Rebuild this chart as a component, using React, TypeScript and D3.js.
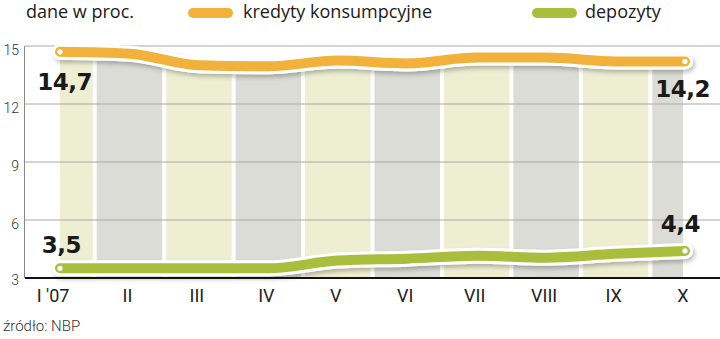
import React from "react";
import * as d3 from "d3";

const categories = ["I '07", "II", "III", "IV", "V", "VI", "VII", "VIII", "IX", "X"];
const kredyty = [14.7, 14.6, 14.0, 13.95, 14.25, 14.1, 14.4, 14.4, 14.2, 14.2];
const depozyty = [3.5, 3.5, 3.5, 3.5, 3.9, 4.0, 4.15, 4.05, 4.25, 4.4];
const yTicks = [3, 6, 9, 12, 15];
const seriesNames = ["kredyty konsumpcyjne", "depozyty"];

const W = 720;
const H = 339;
const ORANGE = "#f2b13a";
const GREEN = "#a8be3c";
const BAND_A = "#eeeed2";
const BAND_B = "#dcdcd6";

const plLocale = d3.formatLocale({ decimal: ",", thousands: " ", grouping: [3], currency: ["", ""] });
const fmt = plLocale.format(".1f");

export default function App() {
  const x = d3.scalePoint<string>().domain(categories).range([60, 685]);
  const y = d3.scaleLinear().domain([3, 15]).range([278, 46]);
  const step = x.step();

  const lineGen = d3
    .line<number>()
    .x((_, i) => x(categories[i]) as number)
    .y((d) => y(d))
    .curve(d3.curveMonotoneX);

  const areaGen = d3
    .area<number>()
    .x((_, i) => x(categories[i]) as number)
    .y0(y(3))
    .y1((d) => y(d) + 8)
    .curve(d3.curveMonotoneX);

  const x0 = x(categories[0]) as number;
  const x9 = x(categories[categories.length - 1]) as number;

  const bands = categories.map((c, i) => {
    const cx = x(c) as number;
    let l = Math.max(x0, cx - step / 2 + 2);
    let r = Math.min(x9, cx + step / 2 - 2);
    if (i === 0) l = x0 - 1;
    if (i === categories.length - 1) r = x9 - 2;
    return { l, r, fill: i % 2 === 0 ? BAND_A : BAND_B };
  });

  const series = [
    { values: kredyty, color: ORANGE },
    { values: depozyty, color: GREEN },
  ];

  const labelFont = "'DejaVu Sans', sans-serif";

  return (
    <svg width={W} height={H} style={{ position: "absolute", left: 0, top: 0, background: "#fff" }}>
      <defs>
        <clipPath id="underTop">
          <path d={areaGen(kredyty) || ""} />
        </clipPath>
        <filter id="shadow" x="-10%" y="-50%" width="120%" height="250%">
          <feDropShadow dx="2" dy="3" stdDeviation="2" floodColor="#000" floodOpacity="0.25" />
        </filter>
      </defs>

      {/* header */}
      <text x={26} y={18} fontFamily="'Open Sans', sans-serif" fontSize={18} fill="#1a1a1a">
        dane w proc.
      </text>
      <line x1={193} x2={228} y1={13} y2={13} stroke={ORANGE} strokeWidth={10} strokeLinecap="round" />
      <text x={243} y={18} fontFamily="'Open Sans', sans-serif" fontSize={18} fill="#1a1a1a">
        {seriesNames[0]}
      </text>
      <line x1={537} x2={572} y1={13} y2={13} stroke={GREEN} strokeWidth={10} strokeLinecap="round" />
      <text x={585} y={18} fontFamily="'Open Sans', sans-serif" fontSize={18} fill="#1a1a1a">
        {seriesNames[1]}
      </text>

      {/* bands */}
      <g clipPath="url(#underTop)">
        {bands.map((b, i) => (
          <rect key={i} x={b.l} y={40} width={b.r - b.l} height={y(3) - 40} fill={b.fill} />
        ))}
      </g>

      {/* grid */}
      {yTicks
        .filter((t) => t !== 3)
        .map((t) => (
          <line key={t} x1={25} x2={W} y1={y(t)} y2={y(t)} stroke="#a8a8a8" strokeWidth={1} />
        ))}
      <line x1={24.5} x2={24.5} y1={y(15)} y2={y(3)} stroke="#888" strokeWidth={1} />

      {/* y tick labels */}
      {yTicks.map((t) => (
        <text
          key={t}
          x={19}
          y={y(t) + (t === 3 ? 7 : 9)}
          textAnchor="end"
          fontFamily="Roboto, sans-serif"
          fontWeight={300}
          fontSize={14}
          fill="#333"
        >
          {t}
        </text>
      ))}

      {/* lines */}
      {series.map((s, k) => (
        <g key={k}>
          <path
            d={lineGen(s.values) || ""}
            fill="none"
            stroke="#fff"
            strokeWidth={16}
            strokeLinecap="round"
            filter="url(#shadow)"
          />
          <path d={lineGen(s.values) || ""} fill="none" stroke={s.color} strokeWidth={10} strokeLinecap="round" />
          {[0, s.values.length - 1].map((i) => (
            <circle key={i} cx={x(categories[i]) as number} cy={y(s.values[i])} r={2.6} fill="#fff" />
          ))}
        </g>
      ))}

      {/* x axis */}
      <line x1={25} x2={W} y1={y(3)} y2={y(3)} stroke="#111" strokeWidth={2} />
      {categories.map((c) => (
        <text
          key={c}
          x={(x(c) as number) - (c === "I '07" ? 7 : 2)}
          y={302}
          textAnchor="middle"
          fontFamily="Roboto, sans-serif"
          fontSize={18}
          fill="#222"
        >
          {c}
        </text>
      ))}

      {/* value labels */}
      <text x={x0 + 32} y={y(kredyty[0]) + 38} textAnchor="end" fontFamily={labelFont} fontWeight="bold" fontSize={23} fill="#1a1a1a" letterSpacing={-0.5}>
        {fmt(kredyty[0])}
      </text>
      <text x={x9 + 25} y={y(kredyty[kredyty.length - 1]) + 36} textAnchor="end" fontFamily={labelFont} fontWeight="bold" fontSize={23} fill="#1a1a1a" letterSpacing={-0.5}>
        {fmt(kredyty[kredyty.length - 1])}
      </text>
      <text x={x0 + 21} y={y(depozyty[0]) - 15} textAnchor="end" fontFamily={labelFont} fontWeight="bold" fontSize={23} fill="#1a1a1a" letterSpacing={-0.5}>
        {fmt(depozyty[0])}
      </text>
      <text x={x9 + 15} y={y(depozyty[depozyty.length - 1]) - 19} textAnchor="end" fontFamily={labelFont} fontWeight="bold" fontSize={23} fill="#1a1a1a" letterSpacing={-0.5}>
        {fmt(depozyty[depozyty.length - 1])}
      </text>

      {/* source */}
      <text x={3} y={331} fontFamily="Roboto, sans-serif" fontWeight={300} fontSize={15} fill="#333">
        źródło: NBP
      </text>
    </svg>
  );
}
